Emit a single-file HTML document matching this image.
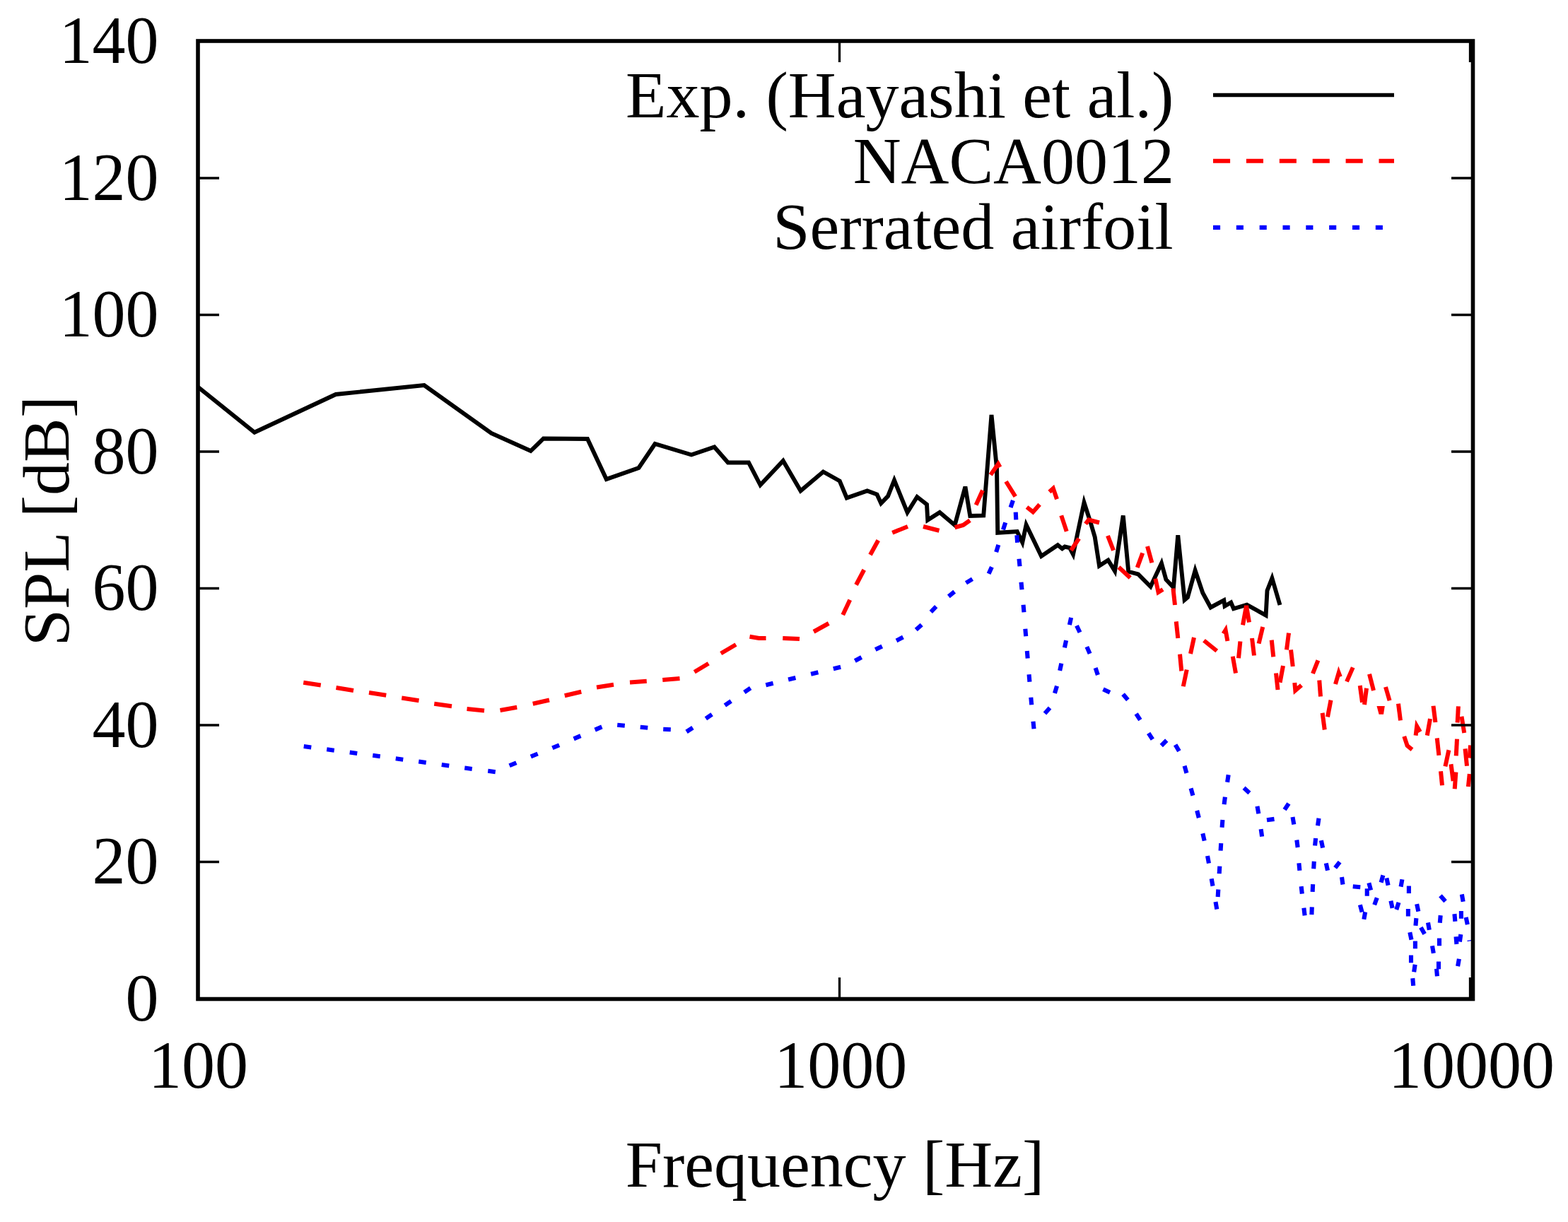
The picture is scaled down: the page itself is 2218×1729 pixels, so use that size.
<!DOCTYPE html>
<html lang="en"><head><meta charset="utf-8"><title>SPL vs Frequency</title>
<style>html,body{margin:0;padding:0;background:#fff}body{width:2218px;height:1729px;overflow:hidden}svg{display:block}text{font-family:"Liberation Serif", serif;font-size:94.0px;fill:#000}</style>
</head><body>
<svg width="2218" height="1729" viewBox="0 0 2218 1729">
<rect x="0" y="0" width="2218" height="1729" fill="#fff"/>
<defs><clipPath id="plot"><rect x="280" y="58" width="1801" height="1355.5"/></clipPath></defs>
<g clip-path="url(#plot)">
<polyline fill="none" stroke="#000" stroke-width="5.9" stroke-linejoin="miter" stroke-miterlimit="5" points="280.00,547.50 360.00,611.70 475.00,558.00 600.00,545.00 695.00,613.00 750.70,638.00 768.70,620.50 831.00,621.00 857.75,678.00 903.50,662.00 926.50,628.00 978.00,643.50 1010.50,632.50 1029.75,654.50 1059.00,654.50 1075.50,686.25 1107.75,652.00 1132.50,694.50 1164.50,667.50 1187.75,680.50 1197.75,704.50 1226.75,694.50 1240.50,699.50 1246.25,712.00 1256.00,702.00 1265.00,679.50 1283.50,725.00 1297.25,703.00 1311.00,713.75 1312.25,735.75 1329.25,725.00 1350.60,743.00 1364.80,690.90 1365.80,690.90 1372.25,730.00 1391.25,729.40 1402.50,587.10 1410.00,662.50 1411.25,753.75 1438.75,752.00 1446.25,767.50 1451.60,742.50 1473.00,787.00 1496.25,771.25 1502.50,776.25 1506.25,773.50 1513.00,775.00 1518.00,784.50 1533.50,711.00 1542.50,738.75 1548.75,760.00 1555.00,800.50 1567.50,792.50 1577.00,808.00 1588.75,729.50 1596.25,808.75 1610.00,812.50 1627.50,830.00 1643.00,797.00 1649.40,820.00 1660.00,831.25 1666.25,757.30 1675.60,848.75 1680.00,845.00 1690.60,807.00 1701.25,838.75 1712.50,859.40 1731.25,849.40 1732.50,857.50 1741.25,852.50 1745.00,861.25 1763.75,855.60 1790.60,870.60 1792.50,835.60 1799.40,818.00 1810.50,856.00"/>
<g fill="none" stroke="#f00" stroke-width="6" stroke-linejoin="miter" stroke-miterlimit="5">
<polyline points="429.25,965.75 453.75,969.50"/>
<polyline points="475.50,973.00 500.00,977.00"/>
<polyline points="522.00,980.00 546.25,983.75"/>
<polyline points="568.25,987.50 592.50,991.25"/>
<polyline points="614.25,995.75 639.00,999.25"/>
<polyline points="660.50,1003.00 685.00,1005.50"/>
<polyline points="707.50,1005.00 731.25,1000.75"/>
<polyline points="753.75,995.75 777.00,990.50"/>
<polyline points="798.75,984.25 822.25,978.75"/>
<polyline points="844.00,972.50 868.00,968.75"/>
<polyline points="891.00,965.50 914.75,963.75"/>
<polyline points="937.25,962.00 961.50,960.00"/>
<polyline points="982.25,950.75 1002.25,938.75"/>
<polyline points="1019.75,924.50 1041.00,912.00"/>
<polyline points="1060.50,900.75 1073.50,903.00 1083.50,903.00"/>
<polyline points="1107.25,903.00 1131.00,904.00"/>
<polyline points="1151.00,893.75 1172.25,882.00"/>
<polyline points="1192.25,870.00 1202.25,848.75"/>
<polyline points="1211.00,827.50 1222.25,806.25"/>
<polyline points="1231.00,785.00 1242.25,764.50"/>
<polyline points="1262.25,753.75 1284.00,745.00"/>
<polyline points="1306.00,745.00 1328.50,750.75"/>
<polyline points="1350.60,746.25 1362.50,743.00 1372.00,736.25"/>
<polyline points="1380.60,714.40 1390.00,693.75"/>
<polyline points="1401.25,671.90 1412.00,656.50 1414.50,661.00"/>
<polyline points="1423.00,681.25 1436.25,702.50"/>
<polyline points="1452.50,717.50 1461.25,724.40 1470.60,713.75"/>
<polyline points="1484.40,696.00 1489.80,691.00 1495.00,706.25"/>
<polyline points="1501.25,729.40 1508.75,751.90"/>
<polyline points="1515.00,778.75 1526.25,761.90"/>
<polyline points="1535.60,741.25 1540.00,735.50 1555.00,739.50"/>
<polyline points="1567.00,758.00 1575.00,778.75"/>
<polyline points="1582.50,802.50 1598.75,817.50"/>
<polyline points="1608.75,803.00 1616.25,782.50"/>
<polyline points="1623.00,773.00 1629.40,796.25"/>
<polyline points="1634.40,818.75 1638.50,838.00 1645.00,834.00"/>
<polyline points="1659.40,832.50 1662.00,856.00"/>
<polyline points="1663.75,879.40 1666.25,903.00"/>
<polyline points="1669.00,925.60 1671.25,949.40"/>
<polyline points="1678.75,947.50 1673.75,971.25"/>
<polyline points="1689.00,902.00 1684.00,925.00"/>
<polyline points="1703.00,906.25 1721.25,921.00"/>
<polyline points="1730.50,896.50 1733.60,891.50 1736.40,907.00"/>
<polyline points="1743.75,928.75 1748.00,952.50"/>
<polyline points="1754.40,907.50 1752.00,931.25"/>
<polyline points="1758.00,884.40 1763.00,857.00 1767.00,880.60"/>
<polyline points="1771.00,903.00 1774.00,927.50"/>
<polyline points="1786.25,887.00 1780.60,910.60"/>
<polyline points="1798.75,905.60 1801.25,929.40"/>
<polyline points="1805.00,952.50 1807.50,976.00"/>
<polyline points="1815.00,942.00 1810.60,965.60"/>
<polyline points="1823.00,895.60 1820.00,919.40"/>
<polyline points="1826.00,919.40 1828.75,943.00"/>
<polyline points="1831.30,966.00 1832.30,977.00 1841.00,969.50"/>
<polyline points="1864.40,934.40 1857.00,953.00"/>
<polyline points="1866.25,962.50 1868.00,985.60"/>
<polyline points="1882.50,990.60 1878.00,1014.40"/>
<polyline points="1870.60,1008.75 1873.75,1032.50"/>
<polyline points="1889.00,968.00 1893.70,952.00 1895.80,957.50"/>
<polyline points="1905.00,964.40 1913.75,944.40"/>
<polyline points="1923.75,970.00 1927.00,993.75"/>
<polyline points="1933.00,973.75 1930.00,997.00"/>
<polyline points="1937.00,953.75 1943.00,977.00"/>
<polyline points="1960.00,972.00 1965.60,991.25"/>
<polyline points="1978.00,995.60 1981.00,1019.40"/>
<polyline points="1986.25,1041.90 1990.60,1055.00 1997.50,1060.60"/>
<polyline points="2002.60,1040.60 2004.20,1027.50 2008.80,1035.50"/>
<polyline points="2023.00,1017.00 2018.75,1040.60"/>
<polyline points="2027.50,998.75 2030.40,1022.00"/>
<polyline points="2032.75,1044.40 2035.40,1068.75"/>
<polyline points="2049.40,1061.25 2044.40,1084.40"/>
<polyline points="2038.00,1091.25 2040.00,1111.25"/>
<polyline points="2052.50,1081.25 2055.60,1105.00"/>
<polyline points="2059.40,1092.50 2057.75,1116.25"/>
<polyline points="2061.00,1045.60 2059.75,1069.40"/>
<polyline points="2062.90,999.40 2061.60,1022.50"/>
<polyline points="2067.50,1013.75 2071.25,1036.90"/>
<polyline points="2072.50,1059.40 2075.00,1083.75"/>
<polyline points="2080.00,1054.40 2078.75,1072.50"/>
<polyline points="2078.75,1095.00 2076.90,1113.00"/>
<polygon fill="#f00" stroke="none" points="1947.5,999 1958.8,999 1957,1010.7 1950.6,1010.7"/>
</g>
<g fill="none" stroke="#00f" stroke-width="6.1">
<path d="M1888.64 1227.93L1895.16 1219.57M1898.01 1241.00L1899.49 1251.50M1913.72 1254.29L1924.28 1255.21M1933.75 1257.20L1933.75 1267.80M1936.38 1249.28L1939.12 1259.52M1923.88 1280.28L1926.62 1290.52M1929.33 1300.82L1931.17 1290.38M1944.19 1280.23L1947.81 1270.27M1953.63 1248.62L1956.37 1238.38M1961.40 1242.32L1963.60 1252.68M1967.40 1274.57L1969.60 1284.93M1975.26 1286.94L1978.54 1276.86M1981.58 1254.62L1983.42 1244.18M1992.90 1253.45L1992.90 1264.05M1991.90 1285.95L1991.90 1296.55M2004.15 1279.22L2006.35 1289.58M2002.44 1309.68L2003.36 1299.12M1994.30 1319.22L1996.50 1329.58M2001.90 1331.60L2001.90 1342.20M1996.00 1351.60L1996.00 1362.20M2000.16 1375.25L2001.64 1364.75M1998.29 1384.12L1999.21 1394.68M2009.85 1312.31L2015.15 1321.49M2019.98 1305.38L2021.82 1315.82M2025.98 1338.28L2027.82 1348.72M2036.00 1327.60L2036.00 1338.20M2036.79 1305.68L2037.71 1295.12M2037.45 1267.31L2044.55 1275.19M2035.00 1360.60L2035.00 1371.20M2032.04 1370.72L2032.96 1381.28M2057.44 1293.12L2058.36 1303.68M2066.90 1289.10L2066.90 1299.70M2067.83 1265.38L2069.67 1275.82M2073.65 1297.82L2075.85 1308.18M2059.54 1325.32L2060.46 1335.88M2064.86 1332.50L2066.34 1322.00M2062.08 1367.12L2063.92 1356.68M429.74 1056.06L440.26 1057.44M462.24 1060.31L472.76 1061.69M494.74 1064.56L505.26 1065.94M527.25 1068.79L537.75 1070.21M559.75 1073.29L570.25 1074.71M592.25 1077.54L602.75 1078.96M624.75 1082.02L635.25 1083.48M657.25 1086.55L667.75 1087.95M690.24 1090.82L700.76 1092.18M720.62 1083.31L730.38 1079.19M750.85 1070.52L760.65 1066.48M781.36 1058.28L791.14 1054.22M811.63 1045.33L821.37 1041.17M841.62 1032.57L851.38 1028.43M873.22 1025.76L883.78 1026.74M905.72 1028.78L916.28 1029.72M938.21 1031.73L948.79 1032.27M971.06 1035.39L979.94 1029.61M998.40 1016.77L1007.10 1010.73M1025.37 997.99L1034.13 992.01M1052.85 979.46L1061.65 973.54M1083.35 969.26L1093.65 966.74M1115.10 961.50L1125.40 959.00M1147.10 953.73L1157.40 951.27M1178.84 946.22L1189.16 943.78M1209.34 935.03L1218.66 929.97M1238.23 919.06L1247.77 914.44M1268.04 906.43L1277.46 901.57M1295.77 891.00L1303.73 884.00M1316.78 865.78L1324.22 858.22M1341.85 843.79L1350.15 837.21M1366.48 824.77L1375.52 819.23M1398.59 811.84L1402.91 802.16M1409.17 781.06L1412.33 770.94M1418.96 749.44L1422.24 739.36M1429.55 718.02L1432.95 707.98M1436.72 724.71L1437.28 735.29M1438.35 757.22L1439.15 767.78M1441.50 790.72L1442.50 801.28M1444.51 823.72L1445.49 834.28M1447.54 855.72L1448.46 866.28M1450.32 889.72L1451.18 900.28M1452.82 920.97L1453.68 931.53M1455.56 954.22L1456.44 964.78M1458.27 986.72L1459.23 997.28M1461.50 1020.72L1462.50 1031.28M1477.95 1009.44L1485.05 1001.56M1491.96 980.82L1495.04 970.68M1499.16 948.94L1501.34 938.56M1505.90 916.43L1508.10 906.07M1512.88 884.18L1515.12 873.82M1522.98 885.21L1527.52 894.79M1537.39 915.14L1541.61 924.86M1549.61 944.96L1552.89 955.04M1560.45 975.26L1570.05 979.74M1588.59 982.19L1595.41 990.31M1607.14 1009.79L1612.86 1018.71M1624.65 1037.28L1630.35 1046.22M1642.75 1055.00L1650.25 1047.50M1662.60 1053.66L1667.90 1062.84M1675.55 1083.65L1678.45 1093.85M1684.59 1115.39L1687.41 1125.61M1693.17 1146.87L1695.83 1157.13M1701.33 1179.23L1703.67 1189.57M1708.02 1211.04L1709.98 1221.46M1713.68 1243.18L1715.52 1253.62M1719.48 1276.03L1721.32 1286.47M1722.68 1269.04L1723.32 1258.46M1724.68 1236.19L1725.32 1225.61M1726.58 1203.69L1727.22 1193.11M1728.57 1170.68L1729.43 1160.12M1731.60 1138.16L1732.90 1127.64M1736.12 1106.74L1737.68 1096.26M1759.56 1114.85L1767.44 1121.95M1778.48 1140.78L1780.32 1151.22M1783.66 1173.15L1785.14 1183.65M1792.00 1160.34L1802.50 1158.86M1817.11 1145.69L1822.89 1136.81M1828.50 1156.03L1830.30 1166.47M1834.32 1188.49L1835.68 1199.01M1837.40 1221.22L1838.40 1231.78M1840.66 1254.13L1841.84 1264.67M1844.36 1284.74L1845.64 1295.26M1855.39 1294.05L1855.81 1283.45M1856.66 1261.79L1857.14 1251.21M1858.20 1229.29L1858.80 1218.71M1860.06 1196.52L1861.14 1185.98M1863.98 1168.24L1865.52 1157.76M1868.89 1189.22L1871.11 1199.58M1875.79 1221.32L1878.01 1231.68"/>
<path stroke-width="1.2" d="M2075.5 1331.3L2081 1330.6"/>
</g>
</g>
<line x1="1716" y1="134.5" x2="1972" y2="134.5" stroke="#000" stroke-width="5.3"/>
<line x1="1716" y1="227.7" x2="1972" y2="227.7" stroke="#f00" stroke-width="6.1" stroke-dasharray="24.1 22.8"/>
<line x1="1716" y1="321.9" x2="1972" y2="321.9" stroke="#00f" stroke-width="6.1" stroke-dasharray="10.1 22.73"/>
<path fill="none" stroke="#000" stroke-width="3.3" d="M280 1219.5H310M2083.5 1219.5H2053M280 1026H310M2083.5 1026H2053M280 832.5H310M2083.5 832.5H2053M280 639H310M2083.5 639H2053M280 445.5H310M2083.5 445.5H2053M280 252H310M2083.5 252H2053M1187.5 58V88M1187.5 1413.5V1383M2079.5 58V88M2079.5 1413.5V1383"/>
<rect x="280" y="58" width="1803.5" height="1355.5" fill="none" stroke="#000" stroke-width="5.6"/>
<text transform="translate(224.6,1443.9) scale(1,1.015)" text-anchor="end">0</text>
<text transform="translate(224.6,1250.4) scale(1,1.015)" text-anchor="end">20</text>
<text transform="translate(224.6,1056.9) scale(1,1.015)" text-anchor="end">40</text>
<text transform="translate(224.6,863.4) scale(1,1.015)" text-anchor="end">60</text>
<text transform="translate(224.6,669.9) scale(1,1.015)" text-anchor="end">80</text>
<text transform="translate(224.6,476.4) scale(1,1.015)" text-anchor="end">100</text>
<text transform="translate(224.6,282.9) scale(1,1.015)" text-anchor="end">120</text>
<text transform="translate(224.6,89.4) scale(1,1.015)" text-anchor="end">140</text>
<text transform="translate(280.5,1538.9) scale(1,1.015)" text-anchor="middle">100</text>
<text transform="translate(1189.3,1538.9) scale(1,1.015)" text-anchor="middle">1000</text>
<text transform="translate(2081.5,1538.9) scale(1,1.015)" text-anchor="middle">10000</text>
<text x="1181" y="1678.7" text-anchor="middle">Frequency [Hz]</text>
<text transform="translate(96.6,737.2) rotate(-90)" text-anchor="middle">SPL [dB]</text>
<text x="1660.3" y="165.7" text-anchor="end">Exp. (Hayashi et al.)</text>
<text x="1661" y="259.0" text-anchor="end">NACA0012</text>
<text x="1659.5" y="352.3" text-anchor="end">Serrated airfoil</text>
</svg>
</body></html>
